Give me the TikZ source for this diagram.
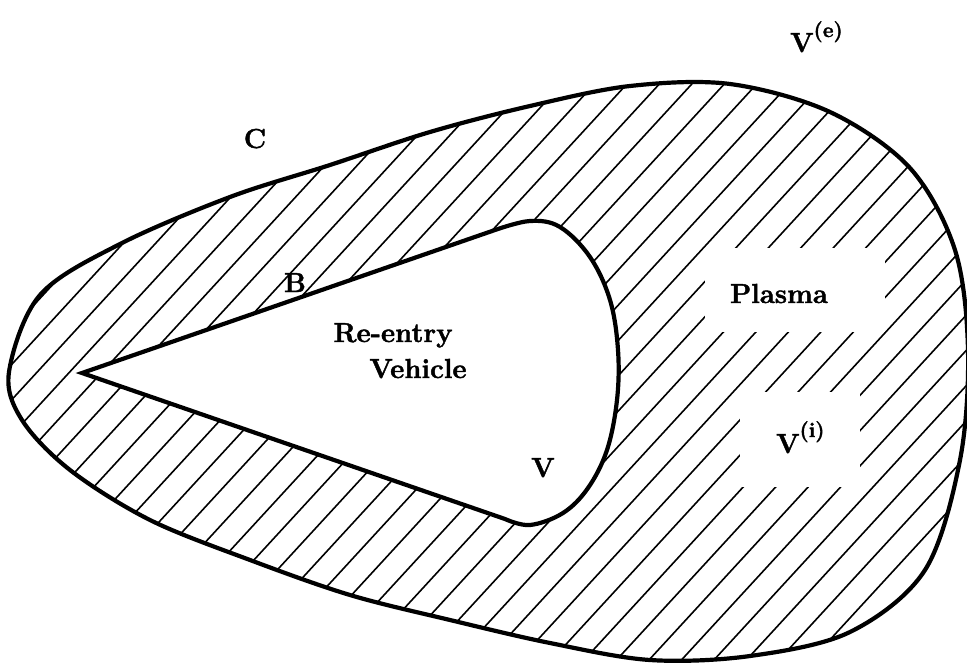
\documentclass[tikz,border=0pt]{standalone}
\usepackage{fontspec}
\setmainfont{Latin Modern Roman}
\newfontfamily\lblfont{Latin Modern Roman}[BoldFeatures={FakeBold=1.6}]
\tikzset{
  bnd/.style={line width=4.2pt, line join=miter},
  hatchline/.style={line width=1.6pt},
  lbl/.style={inner sep=0pt, anchor=base, font=\lblfont\fontsize{27.5}{32}\selectfont\bfseries},
  lblw/.style={inner sep=0pt, anchor=base west, font=\lblfont\fontsize{27.5}{32}\selectfont\bfseries},
}
\begin{document}
\begin{tikzpicture}[x=1pt,y=-1pt]
\useasboundingbox (0,0) rectangle (967,664);
% hatching clipped to the plasma region
\begin{scope}
  \clip plot[smooth cycle, tension=0.55] coordinates {(9,372) (40,295) (120,244) (230,197) (330,165) (430,132) (530,106) (630,86) (730,84) (830,112) (910,168) (955,250) (968,350) (960,460) (925,570) (850,632) (750,656) (650,660) (550,643) (450,620) (350,595) (250,560) (150,520) (70,470) (22,420)};
  \foreach \i in {-12,...,40}{
    \draw[hatchline] ({-297+32.47*\i},700) -- ({-297+32.47*\i+653.2},-10);
  }
  \fill[white] (705,248) rectangle (885,332);
  \fill[white] (740,392) rectangle (860,487);
\end{scope}
% outer boundary C
\draw[bnd] plot[smooth cycle, tension=0.55] coordinates {(9,372) (40,295) (120,244) (230,197) (330,165) (430,132) (530,106) (630,86) (730,84) (830,112) (910,168) (955,250) (968,350) (960,460) (925,570) (850,632) (750,656) (650,660) (550,643) (450,620) (350,595) (250,560) (150,520) (70,470) (22,420)};
% inner body B
\filldraw[bnd, fill=white] (82,373) -- plot[smooth, tension=0.6] coordinates {(495,230) (530,221) (560,227) (590,257) (610,300) (618,350) (617,400) (607,450) (588,488) (563,513) (530,525) (505,519)} -- cycle;
% labels
\node[lbl] (c) at (255,148) {C};
\node[lbl] (b) at (295,292) {B};
\node[lbl] (re) at (393,342) {Re-entry};
\node[lbl] (veh) at (418,378) {Vehicle};
\node[lbl] (pl) at (779,303) {Plasma};
\node[lbl] (v) at (543,477) {V};
\node[lblw] (ve) at (790,52) {V\raisebox{15pt}{\fontsize{21}{22}\selectfont(e)}};
\node[lblw] (vi) at (776,453) {V\raisebox{16pt}{\fontsize{21}{22}\selectfont(i)}};
\end{tikzpicture}
\end{document}
